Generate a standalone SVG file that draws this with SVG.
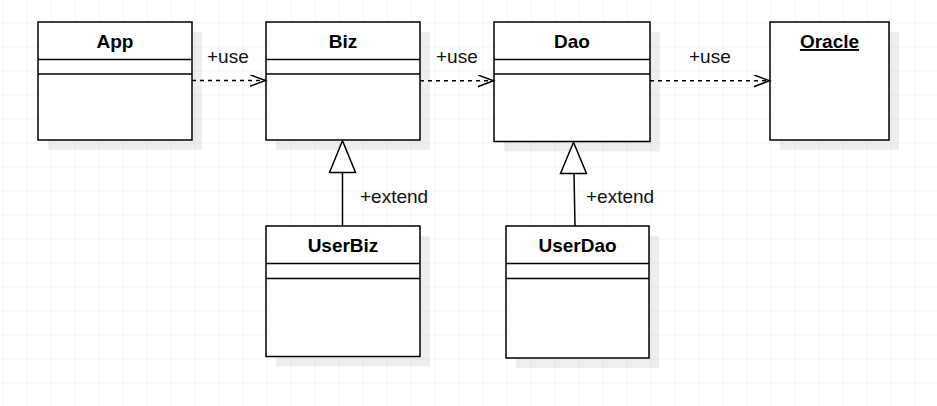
<svg xmlns="http://www.w3.org/2000/svg" width="937" height="406" viewBox="0 0 937 406">
<defs>
<pattern id="grid" x="2.5" y="22.5" width="24" height="24" patternUnits="userSpaceOnUse">
<path d="M0 0H24M0 0V24" fill="none" stroke="#e9e9e9" stroke-width="1"/>
</pattern>
<marker id="open" markerUnits="userSpaceOnUse" markerWidth="20" markerHeight="16" refX="16" refY="6" orient="auto" viewBox="0 0 20 16">
<path d="M0 0L16 6L0 12" fill="none" stroke="#000" stroke-width="1.5"/>
</marker>
<marker id="tri" markerUnits="userSpaceOnUse" markerWidth="30" markerHeight="34" refX="32" refY="13.5" orient="auto" viewBox="0 0 34 30">
<path d="M1 1L32 13.5L1 26Z" fill="#fff" stroke="#000" stroke-width="1.5"/>
</marker>
</defs>
<style>
.box{fill:#fff;stroke:#000;stroke-width:1.5}
.sh{fill:#000;fill-opacity:0.065}
.div{stroke:#000;stroke-width:1.5}
.title{font-family:"Liberation Sans",Arial,sans-serif;font-size:19px;font-weight:bold;text-anchor:middle;fill:#000}
.lbl{font-family:"Liberation Sans",Arial,sans-serif;font-size:19px;fill:#111}
.dash{fill:none;stroke:#000;stroke-width:1.5;stroke-dasharray:4 4}
.gen{fill:none;stroke:#000;stroke-width:1.5}
</style>
<rect width="937" height="406" fill="#fff"/>
<rect width="937" height="406" fill="url(#grid)"/>

<g id="App">
<rect class="sh" x="48" y="32" width="154" height="118"/>
<rect class="box" x="38" y="22" width="154" height="118"/>
<line class="div" x1="38" y1="59.5" x2="192" y2="59.5"/>
<line class="div" x1="38" y1="74" x2="192" y2="74"/>
<text class="title" x="115" y="48">App</text>
</g>

<g id="Biz">
<rect class="sh" x="276" y="32" width="154" height="118"/>
<rect class="box" x="266" y="22" width="154" height="118"/>
<line class="div" x1="266" y1="59.5" x2="420" y2="59.5"/>
<line class="div" x1="266" y1="74" x2="420" y2="74"/>
<text class="title" x="343" y="48">Biz</text>
</g>

<g id="Dao">
<rect class="sh" x="504" y="32" width="156" height="119.5"/>
<rect class="box" x="494" y="22" width="156" height="119.5"/>
<line class="div" x1="494" y1="59.5" x2="650" y2="59.5"/>
<line class="div" x1="494" y1="74" x2="650" y2="74"/>
<text class="title" x="572" y="48">Dao</text>
</g>

<g id="Oracle">
<rect class="sh" x="780" y="32" width="119" height="118"/>
<rect class="box" x="770" y="22" width="119" height="118"/>
<text class="title" x="829.5" y="48" text-decoration="underline">Oracle</text>
</g>

<g id="UserBiz">
<rect class="sh" x="276" y="236" width="154" height="130.5"/>
<rect class="box" x="266" y="226" width="154" height="130.5"/>
<line class="div" x1="266" y1="263.5" x2="420" y2="263.5"/>
<line class="div" x1="266" y1="278.5" x2="420" y2="278.5"/>
<text class="title" x="343" y="252">UserBiz</text>
</g>

<g id="UserDao">
<rect class="sh" x="516" y="236" width="143" height="132"/>
<rect class="box" x="506" y="226" width="143" height="132"/>
<line class="div" x1="506" y1="263.5" x2="649" y2="263.5"/>
<line class="div" x1="506" y1="278.5" x2="649" y2="278.5"/>
<text class="title" x="577.5" y="252">UserDao</text>
</g>

<g id="connectors">
<path class="dash" d="M192 80.5H265.5" marker-end="url(#open)"/>
<text class="lbl" x="207" y="63">+use</text>
<path class="dash" d="M420 80.8H493.5" marker-end="url(#open)"/>
<text class="lbl" x="436" y="63">+use</text>
<path class="dash" d="M650 80.8H769.5" marker-end="url(#open)"/>
<text class="lbl" x="689" y="63">+use</text>
<path class="gen" d="M342.5 226V172"/>
<path d="M342.5 140.8L355.5 172.5H329.5Z" fill="#fff" stroke="#000" stroke-width="1.5"/>
<text class="lbl" x="360" y="203">+extend</text>
<path class="gen" d="M575 226L574 173.5"/>
<path d="M573.5 142.3L586.5 173.5H560.5Z" fill="#fff" stroke="#000" stroke-width="1.5"/>
<text class="lbl" x="586" y="203">+extend</text>
</g>
</svg>
